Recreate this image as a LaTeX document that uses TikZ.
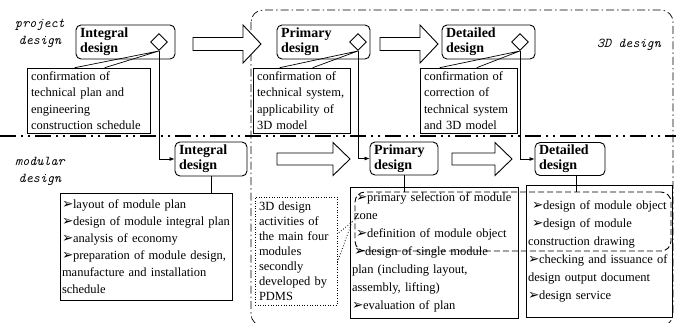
\documentclass[tikz,border=0pt]{standalone}
\usepackage{fontspec}
\setmainfont{Liberation Serif}
\newfontfamily\dejavu{DejaVu Sans}
\usetikzlibrary{arrows.meta,shapes.geometric}
\newcommand{\bul}{\makebox[11pt][l]{\dejavu\fontsize{13.5}{12}\selectfont ➢}}
\begin{document}
\begin{tikzpicture}[x=1pt,y=-1pt,
  stagebox/.style={draw, rounded corners=5pt, line width=0.9pt, align=left,
    font=\bfseries\fontsize{14}{15}\selectfont, inner xsep=4pt, inner ysep=0pt},
  dia/.style={draw, diamond, fill=white, line width=0.9pt, minimum size=17pt, inner sep=0pt},
  cbox/.style={draw, line width=0.6pt, align=left, inner xsep=4pt, inner ysep=0pt,
    font=\fontsize{12.5}{16.5}\selectfont},
  lbox/.style={draw, line width=0.8pt, align=left, inner xsep=2pt, inner ysep=0pt,
    font=\fontsize{12.5}{17}\selectfont},
  phase/.style={font=\ttfamily\itshape\fontsize{13.5}{17}\selectfont, align=center},
  conn/.style={line width=0.7pt},
  tip/.style={-{Latex[length=5pt,width=4pt]}},
  hollow/.style={draw, line width=0.9pt, fill=white},
  region/.style={line width=0.7pt, dash pattern=on 8pt off 3pt on 1.5pt off 3pt, rounded corners=12pt},
  separator/.style={line width=1.6pt, dash pattern=on 16pt off 5pt on 2pt off 5pt on 2pt off 5pt}
]
\useasboundingbox (0,0) rectangle (676,322);

% regions
\draw[region] (251,10) rectangle (673,326);
\draw[separator] (0,136) -- (676,136);

% phase labels
\node[phase] (pd) at (40,33) {project\\design};
\node[phase] (md) at (40,171) {modular\\design};
\node[phase] (td) at (629,45) {3D design};

% upper stage boxes
\node[stagebox, minimum width=99pt, minimum height=34pt, text width=91pt] (i1) at (125.5,42) {Integral\\design};
\node[stagebox, minimum width=93pt, minimum height=34pt, text width=85pt] (p1) at (323.5,42) {Primary\\design};
\node[stagebox, minimum width=93pt, minimum height=34pt, text width=85pt] (d1) at (488.5,42) {Detailed\\design};
\node[dia] (dm1) at (159,42) {};
\node[dia] (dm2) at (358,42) {};
\node[dia] (dm3) at (520,42) {};

% big hollow arrows (upper)
\draw[hollow] (193,37.5)--(243,37.5)--(243,25)--(261,44)--(243,63)--(243,50.5)--(193,50.5)--cycle;
\draw[hollow] (380,37.5)--(420,37.5)--(420,25)--(438,44)--(420,63)--(420,50.5)--(380,50.5)--cycle;

% callout boxes
\node[cbox, minimum width=123pt, minimum height=65pt, text width=115pt] (c1) at (88.5,100.5)
  {confirmation of\\technical plan and\\engineering\\construction schedule};
\node[cbox, minimum width=97pt, minimum height=65pt, text width=89pt] (c2) at (301.5,100.5)
  {confirmation of\\technical system,\\applicability of\\3D model};
\node[cbox, minimum width=97pt, minimum height=65pt, text width=89pt] (c3) at (468.5,100.5)
  {confirmation of\\correction of\\technical system\\and 3D model};
\draw[conn] ([xshift=48pt]c1.north west) -- (dm1.south) -- ([xshift=78pt]c1.north west);
\draw[conn] ([xshift=27pt]c2.north west) -- (dm2.south) -- ([xshift=60pt]c2.north west);
\draw[conn] ([xshift=20pt]c3.north west) -- (dm3.south) -- ([xshift=57pt]c3.north west);

% lower stage boxes
\node[stagebox, minimum width=72pt, minimum height=34pt, text width=64pt] (i2) at (211,159) {Integral\\design};
\node[stagebox, minimum width=68pt, minimum height=33pt, text width=60pt] (p2) at (404,158.5) {Primary\\design};
\node[stagebox, minimum width=70pt, minimum height=33pt, text width=62pt] (d2) at (570,159) {Detailed\\design};

% connectors from diamonds
\draw[conn, tip] (dm1.south) |- (i2.west);
\draw[conn, tip] (dm2.south) |- (p2.west);
\draw[conn, tip] (dm3.south) |- (d2.west);

% big hollow arrows (lower)
\draw[hollow] (277,153)--(333,153)--(333,142.5)--(350,159)--(333,175.5)--(333,165)--(277,165)--cycle;
\draw[hollow] (452,153)--(495,153)--(495,142.5)--(512,159)--(495,175.5)--(495,165)--(452,165)--cycle;

% list boxes
\node[lbox, minimum width=172pt, minimum height=107pt, text width=168pt] (l1) at (146,246.5)
  {\mbox{\bul layout of module plan}\\\mbox{\bul design of module integral plan}\\\mbox{\bul analysis of economy}\\\mbox{\bul preparation of module design,}\\manufacture and installation\\schedule};
\node[lbox, minimum width=168pt, minimum height=131pt, text width=164pt, font=\fontsize{12.5}{18}\selectfont] (l2) at (434,252.5)
  {\mbox{\hspace{4pt}\bul primary selection of module}\\\hspace{2pt}zone\\\mbox{\hspace{4pt}\bul definition of module object}\\\mbox{\hspace{2pt}\bul design of single module}\\plan (including layout,\\assembly, lifting)\\\mbox{\bul evaluation of plan}};
\node[lbox, minimum width=146pt, minimum height=132pt, text width=142pt, font=\fontsize{12.5}{18}\selectfont] (l3) at (599,251)
  {\mbox{\hspace{4pt}\bul design of module object}\\\mbox{\hspace{4pt}\bul design of module}\\construction drawing\\\mbox{\bul checking and issuance of}\\design output document\\\mbox{\bul design service}};

% dashed zone of 3D design
\node[draw, dash pattern=on 6pt off 3pt, line width=0.9pt, rounded corners=10pt, minimum width=316pt, minimum height=59pt, inner sep=0pt] (dz) at (513,221.5) {};

% dotted callout
\node[cbox, dotted, line width=0.8pt, minimum width=82pt, minimum height=108pt, text width=74pt, font=\fontsize{12.5}{15}\selectfont] (pdms) at (296,251)
  {3D design\\activities of\\the main four\\modules\\secondly\\developed by\\PDMS};
\coordinate (ptip) at (352,222);
\draw[dotted, line width=0.8pt] ([yshift=-11pt]pdms.east) -- (ptip) -- ([yshift=17pt]pdms.east);

% lower connectors
\draw[conn] (i2.south) -- (i2.south |- l1.north);
\draw[conn] (p2.south) -- (p2.south |- dz.north);
\draw[conn] ([xshift=6pt]d2.south) -- ([xshift=6pt]d2.south |- dz.north);
\end{tikzpicture}
\end{document}
